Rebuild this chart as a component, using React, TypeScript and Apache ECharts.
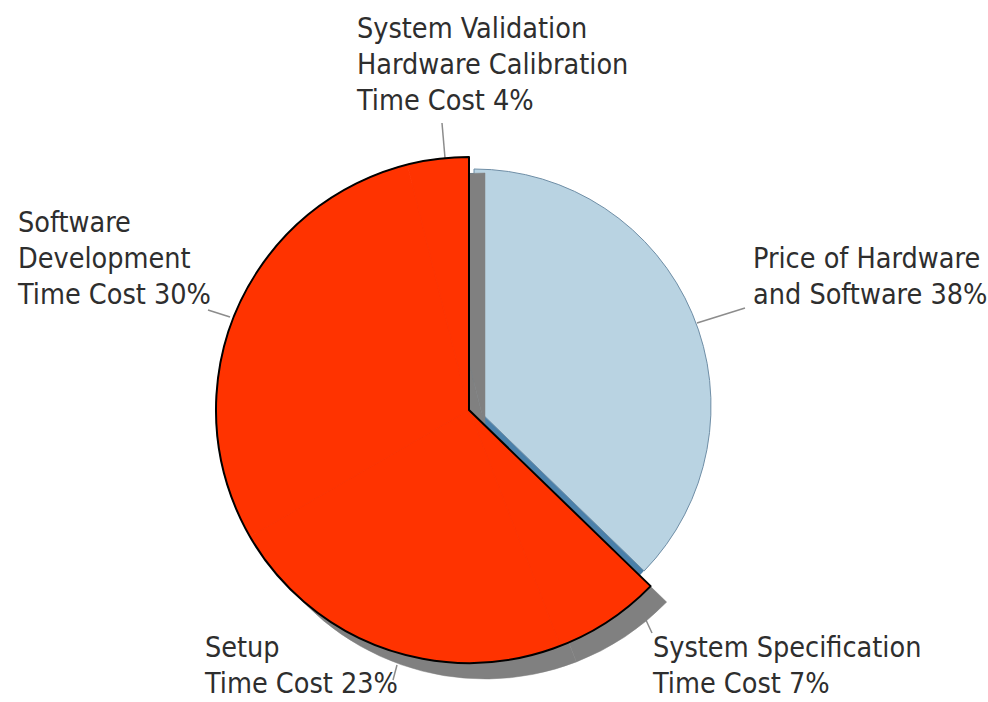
import React, { useEffect, useRef } from "react";
import * as echarts from "echarts";

// ---- data ----
const categories = [
  "Price of Hardware\nand Software",
  "System Specification\nTime Cost",
  "Setup\nTime Cost",
  "Software\nDevelopment\nTime Cost",
  "System Validation\nHardware Calibration\nTime Cost",
];
const values = [38, 7, 23, 30, 4];
const groups = ["hardware", "time", "time", "time", "time"];

// ---- label layout (positions of the text blocks and their leader lines) ----
const labelX = [753, 653, 205, 18, 357];
const labelY = [240, 629, 629, 204, 10];
const lineFrom = [[697, 323], [645, 618], [397, 665], [230, 317], [445, 158]];
const lineTo = [[745, 308], [652, 633], [393, 680], [208, 310], [442, 123]];

const FONT = "'DejaVu Sans Condensed', 'Liberation Sans Narrow', 'Arial Narrow', sans-serif";
const RED = "#ff3300";
const BLUE = "#b9d3e2";
const DARK_BLUE = "#4a80aa";
const GRAY = "#808080";

const labelStyle = {
  show: true,
  formatter: "{b} {c}%",
  fontFamily: FONT,
  fontSize: 28.5,
  lineHeight: 36,
  color: "#2e2e2e",
};
const lineStyle = { show: true, lineStyle: { color: "#8c8c8c", width: 1.5 } };

const layoutFn = (params: any) => {
  const i = params.dataIndex;
  return {
    x: labelX[i],
    y: labelY[i],
    align: "left",
    verticalAlign: "top",
    labelLinePoints: [lineFrom[i], lineFrom[i], lineTo[i]],
  };
};

function build(fill: (i: number) => any, withLabel: (i: number) => boolean) {
  return categories.map((name, i) => {
    const show = withLabel(i);
    return {
      name,
      value: values[i],
      itemStyle: fill(i),
      label: show ? labelStyle : { show: false },
      labelLine: show ? lineStyle : { show: false },
    };
  });
}

const none = { color: "transparent", borderWidth: 0 };

export default function App() {
  const ref = useRef<HTMLDivElement>(null);
  useEffect(() => {
    if (!ref.current) return;
    const chart = echarts.init(ref.current, undefined, { renderer: "svg" });
    const hwSum = values.filter((_, i) => groups[i] === "hardware").reduce((a, b) => a + b, 0);
    const timeSum = values.filter((_, i) => groups[i] === "time").reduce((a, b) => a + b, 0);
    const common = {
      type: "pie",
      startAngle: 90,
      clockwise: true,
      avoidLabelOverlap: false,
      emphasis: { disabled: true },
      animation: false,
    };
    chart.setOption({
      animation: false,
      backgroundColor: "#ffffff",
      series: [
        {
          ...common,
          name: "band",
          silent: true,
          center: [470, 410],
          radius: 237,
          data: build((i) => (groups[i] === "hardware" ? { color: DARK_BLUE, borderWidth: 0 } : none), () => false),
        },
        {
          ...common,
          name: "hardware",
          center: [474, 406],
          radius: 237,
          data: build(
            (i) => (groups[i] === "hardware" ? { color: BLUE, borderColor: "#6f8ea6", borderWidth: 1 } : none),
            (i) => groups[i] === "hardware"
          ),
          labelLayout: layoutFn,
        },
        {
          ...common,
          name: "shadow",
          silent: true,
          center: [485, 426],
          radius: 253,
          data: build((i) => (groups[i] === "time" ? { color: GRAY, borderColor: GRAY, borderWidth: 0.5 } : none), () => false),
        },
        {
          ...common,
          name: "time",
          center: [469, 410],
          radius: 253,
          data: build(
            (i) => (groups[i] === "time" ? { color: RED, borderColor: RED, borderWidth: 0.8 } : none),
            (i) => groups[i] === "time"
          ),
          labelLayout: layoutFn,
        },
        {
          ...common,
          name: "outline",
          silent: true,
          center: [469, 410],
          radius: 253,
          label: { show: false },
          labelLine: { show: false },
          data: [
            { name: "hardware", value: hwSum, itemStyle: none },
            { name: "time", value: timeSum, itemStyle: { color: "transparent", borderColor: "#000000", borderWidth: 2 } },
          ],
        },
      ],
    });
    return () => chart.dispose();
  }, []);
  return (
    <div
      ref={ref}
      style={{ position: "fixed", left: 0, top: 0, width: 988, height: 702 }}
    />
  );
}
